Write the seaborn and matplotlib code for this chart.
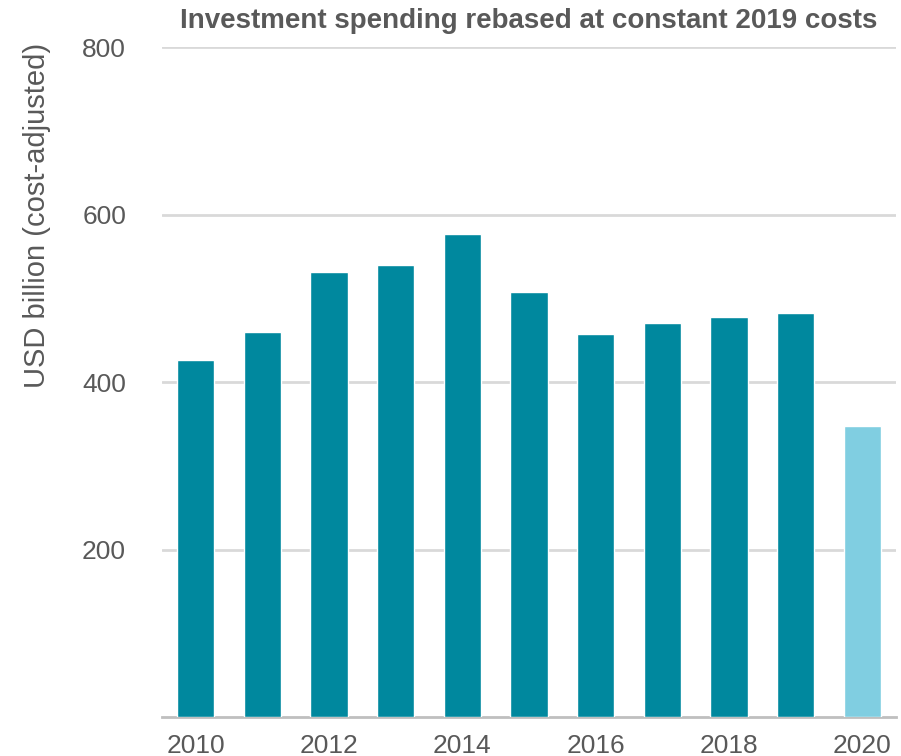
import seaborn as sns
import matplotlib.pyplot as plt
import pandas as pd

years = ['2010', '2011', '2012', '2013', '2014', '2015', '2016', '2017', '2018', '2019', '2020']
spending = [426, 460, 532, 540, 577, 507, 458, 470, 478, 482, 347]
bar_colors = ['#00889e'] * 10 + ['#80cee1']
tick_years = ['2010', '2012', '2014', '2016', '2018', '2020']

df = pd.DataFrame({'year': years, 'spending': spending})

sns.set_style('white')
plt.rcParams['font.family'] = ['Liberation Sans', 'DejaVu Sans']
text_col = '#595959'

fig = plt.figure(figsize=(9.01, 7.56), dpi=100)
ax = fig.add_axes([0.18, 0.0516, 0.814, 0.886])

sns.barplot(data=df, x='year', y='spending', hue='year', palette=bar_colors,
            legend=False, width=0.56, saturation=1, ax=ax, zorder=3)

ax.set_ylim(0, 800)
ax.set_xlim(-0.5, len(years) - 0.5)
ax.set_yticks([200, 400, 600, 800])
ax.yaxis.grid(True, color='#d9d9d9', linewidth=2, zorder=0)
ax.tick_params(axis='y', length=0, labelsize=19, labelcolor=text_col, pad=26)

ax.set_xticks([years.index(y) for y in tick_years])
ax.set_xticklabels(tick_years)
ax.tick_params(axis='x', length=0, labelsize=19, labelcolor=text_col, pad=12)
ax.set_xticks([-0.5, len(years) - 0.5], minor=True)
ax.tick_params(axis='x', which='minor', direction='in', length=7, width=2, color='#bfbfbf')

for s in ['top', 'right', 'left']:
    ax.spines[s].set_visible(False)
ax.spines['bottom'].set_color('#bfbfbf')
ax.spines['bottom'].set_linewidth(2)

ax.set_xlabel('')
ax.set_ylabel('USD billion (cost-adjusted)', fontsize=21, color=text_col)
ax.yaxis.set_label_coords(-0.152, 0.749)

ax.set_title('Investment spending rebased at constant 2019 costs',
             fontsize=20, fontweight='bold', color=text_col, pad=14)

fig.savefig('out.png', dpi=100)
